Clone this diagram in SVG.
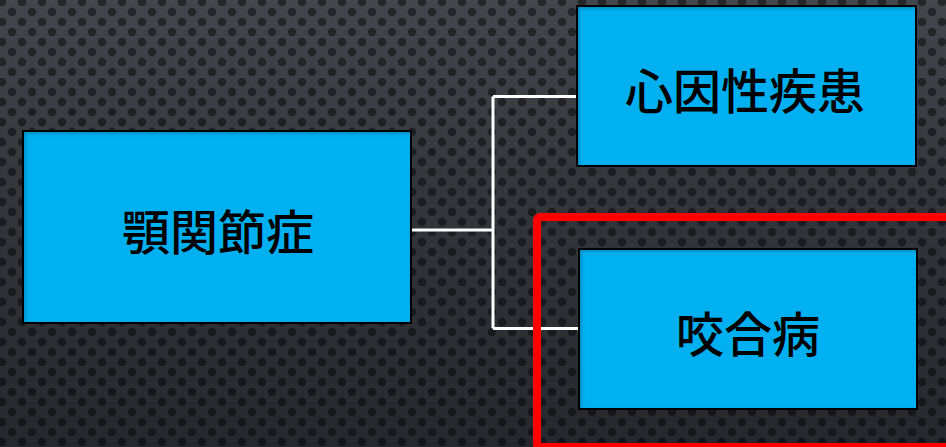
<svg xmlns="http://www.w3.org/2000/svg" width="946" height="447" viewBox="0 0 946 447">
  <defs>
    <linearGradient id="bg" x1="0" y1="0" x2="0" y2="1">
      <stop offset="0" stop-color="#43464d"/>
      <stop offset="0.45" stop-color="#33353b"/>
      <stop offset="1" stop-color="#27282d"/>
    </linearGradient>
    <pattern id="dots" x="2" y="2" width="20" height="20" patternUnits="userSpaceOnUse">
      <circle cx="0" cy="0" r="4.3"/>
      <circle cx="20" cy="0" r="4.3"/>
      <circle cx="0" cy="20" r="4.3"/>
      <circle cx="20" cy="20" r="4.3"/>
      <circle cx="10" cy="10" r="4.3"/>
    </pattern>
    <filter id="inset" x="-5%" y="-5%" width="110%" height="110%">
      <feComponentTransfer in="SourceAlpha">
        <feFuncA type="table" tableValues="1 0"/>
      </feComponentTransfer>
      <feGaussianBlur stdDeviation="2"/>
      <feOffset dx="2" dy="2" result="s"/>
      <feFlood flood-color="#00304a" flood-opacity="0.55"/>
      <feComposite in2="s" operator="in"/>
      <feComposite in2="SourceAlpha" operator="in" result="sh"/>
      <feMerge>
        <feMergeNode in="SourceGraphic"/>
        <feMergeNode in="sh"/>
      </feMerge>
    </filter>
  </defs>
  <style>
    .fill { fill: #00b0f0; filter: url(#inset); }
    .edge { fill: none; stroke: #000; stroke-width: 2; }
    .lbl { font-family: "Noto Sans CJK JP", "Noto Sans CJK SC", sans-serif; font-size: 48px; font-weight: 500; fill: #000; text-anchor: middle; dominant-baseline: central; }
    .conn { fill: none; stroke: #ffffff; stroke-width: 3; }
  </style>

  <rect x="0" y="0" width="946" height="447" fill="url(#bg)"/>
  <rect x="0" y="0" width="946" height="447" fill="url(#dots)" fill-opacity="0.45"/>

  <g id="connectors">
    <path class="conn" d="M411 230 H493"/>
    <path class="conn" d="M493 96.5 V328.5"/>
    <path class="conn" d="M493 96.5 H578"/>
    <path class="conn" d="M493 328.5 H580"/>
  </g>

  <g id="node-gakukansetsusho">
    <rect class="fill" x="23" y="131" width="388" height="192"/>
    <rect class="edge" x="23" y="131" width="388" height="192"/>
    <text class="lbl" x="218" y="229">顎関節症</text>
  </g>

  <g id="node-shininsei">
    <rect class="fill" x="577" y="6" width="339" height="160"/>
    <rect class="edge" x="577" y="6" width="339" height="160"/>
    <text class="lbl" x="745" y="88">心因性疾患</text>
  </g>

  <g id="node-kogobyo">
    <rect class="fill" x="579" y="249" width="338" height="160"/>
    <rect class="edge" x="579" y="249" width="338" height="160"/>
    <text class="lbl" x="748" y="331">咬合病</text>
  </g>

  <g id="highlight">
    <rect x="537" y="217" width="430" height="230" rx="3" fill="none" stroke="#ff0000" stroke-width="8"/>
  </g>
</svg>
